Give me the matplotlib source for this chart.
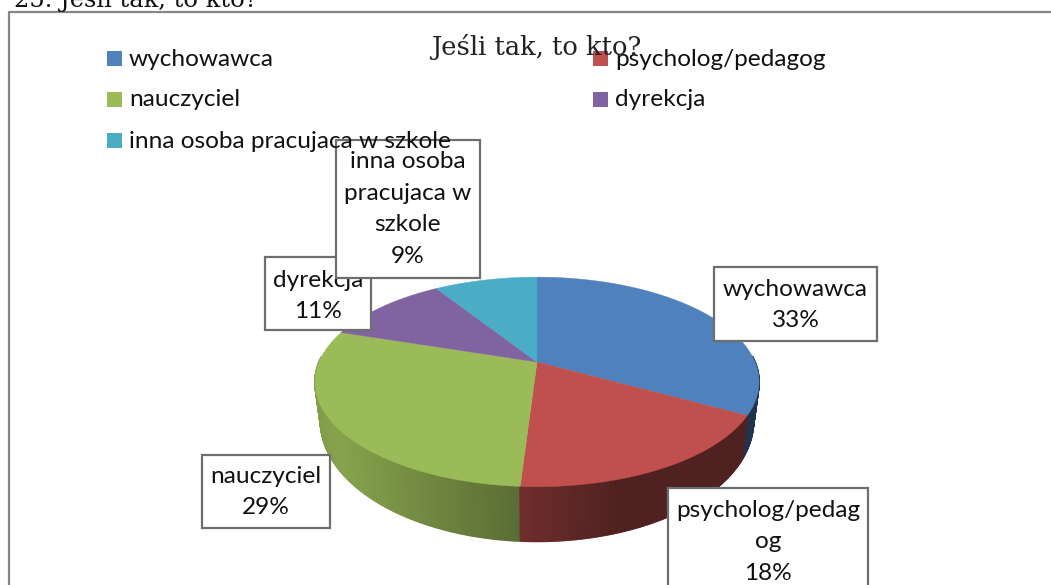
import matplotlib
matplotlib.use('Agg')
import matplotlib.pyplot as plt
from matplotlib.collections import PolyCollection
from matplotlib.patches import Rectangle
import numpy as np

categories = ['wychowawca', 'psycholog/pedagog', 'nauczyciel', 'dyrekcja', 'inna osoba pracujaca w szkole']
values = [33, 18, 29, 11, 9]
wrapped = ['wychowawca', 'psycholog/pedag\nog', 'nauczyciel', 'dyrekcja', 'inna osoba\npracujaca w\nszkole']
colors = ['#4f81bd', '#c0504d', '#9bbb59', '#8064a2', '#4bacc6']

W, H = 1051, 585
fig = plt.figure(figsize=(W / 100, H / 100), dpi=100)
ax = fig.add_axes([0, 0, 1, 1])
ax.set_xlim(0, W)
ax.set_ylim(H, 0)
ax.axis('off')

# tilted disc, near edge comes out larger
CX, CY = 537, 362
A, B, K = 218, 101, 0.19


def project(theta, sx=1.0, sy=1.0, y0=CY):
    u, v = np.sin(theta), np.cos(theta)
    d = 1 + K * v
    return CX + sx * A * u / d, y0 - sy * B * v / d


edges = np.cumsum([0] + values) / sum(values) * 2 * np.pi

# side wall first, top face goes over it
quads, quad_colors, depth = [], [], []
for i, c in enumerate(colors):
    th = np.linspace(edges[i], edges[i + 1], max(int(values[i] * 6), 2))
    rgb = np.array(matplotlib.colors.to_rgb(c))
    for t0, t1 in zip(th[:-1], th[1:]):
        # back part of the wall is hidden anyway
        if np.cos((t0 + t1) / 2) > 0.05:
            continue
        x0, y0 = project(t0)
        x1, y1 = project(t1)
        x2, y2 = project(t1, 0.975, 1.15, 398)
        x3, y3 = project(t0, 0.975, 1.15, 398)
        f = np.interp((x0 + x1) / 2, [315, 340, 520, 620, 760], [0.84, 0.87, 0.58, 0.41, 0.41])
        quads.append([(x0, y0), (x1, y1), (x2, y2), (x3, y3)])
        quad_colors.append(rgb * f)
        depth.append(-np.cos((t0 + t1) / 2))
order = np.argsort(depth)
ax.add_collection(PolyCollection([quads[j] for j in order],
                                 facecolors=[quad_colors[j] for j in order],
                                 edgecolors=[quad_colors[j] for j in order],
                                 linewidths=1.2, zorder=2))

for i, c in enumerate(colors):
    th = np.linspace(edges[i], edges[i + 1], 80)
    x, y = project(th)
    ax.fill(np.r_[CX, x], np.r_[CY, y], color=c, lw=0.3, zorder=3)

# frame around the chart
ax.plot([9, 9, W + 5], [H + 5, 12, 12], color='#868686', lw=1.6, zorder=1)

# data labels, each box is (left, top, right, bottom)
boxes = [(714, 267, 877, 341), (668, 488, 868, 590), (202, 455, 330, 528), (265, 257, 371, 330), (336, 140, 480, 278)]
centers = [305, 542, 492, 296, 209]
font = 'Lato'
for i in [0, 1, 2, 3, 4]:
    l, t, r, b = boxes[i]
    ax.add_patch(Rectangle((l, t), r - l, b - t, fc='white', ec='#6e6e6e', lw=1.6, zorder=4 + i * 0.1))
    ax.text((l + r) / 2, centers[i], f'{wrapped[i]}\n{values[i]}%', ha='center', va='center',
            fontsize=17.6, family=font, linespacing=1.64, color='#111111', zorder=4.05 + i * 0.1)

# legend sits above the boxes
leg_x = [107, 593, 107, 593, 107]
leg_y = [59, 59, 100, 100, 141]
for i, name in enumerate(categories):
    ax.add_patch(Rectangle((leg_x[i], leg_y[i] - 8), 15, 15, fc=colors[i], ec='none', zorder=6))
    ax.text(leg_x[i] + 22, leg_y[i], name, ha='left', va='center', fontsize=17.6, family=font,
            color='#111111', zorder=6)

ax.text(536, 47, 'Jeśli tak, to kto?', ha='center', va='center', fontsize=18.5, family='DejaVu Serif',
        color='#222222', zorder=7)
ax.text(14, 0, '25. Jeśli tak, to kto?', ha='left', va='center', fontsize=17.4, family='DejaVu Serif',
        color='#111111', zorder=7)

fig.savefig('out.png', dpi=100)
